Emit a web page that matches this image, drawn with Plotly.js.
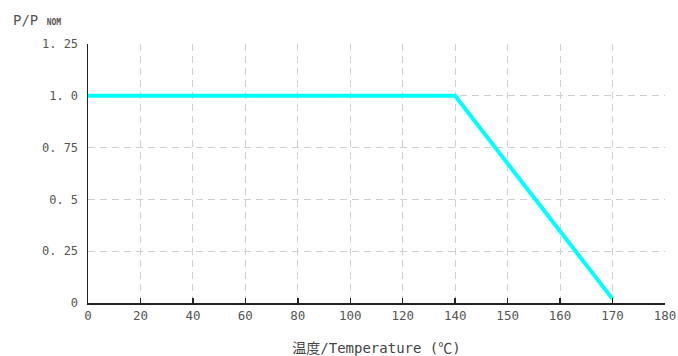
<!DOCTYPE html>
<html>
<head>
<meta charset="utf-8">
<script src="https://cdn.plot.ly/plotly-3.0.1.min.js"></script>
<style>html,body{margin:0;padding:0;background:#fff;}#chart{width:678px;height:356px;}</style>
</head>
<body>
<div id="chart"></div>
<script>
// Tick labels of the (non-uniform) temperature axis, equally spaced in the source chart
const xTickLabels = ['0','20','40','60','80','100','120','140','150','160','170','180'];
// Derating curve
const temperature = ['0','140','170'];
const powerRatio = [1.0, 1.0, 0.02];
// Y ticks
const yTickValues = [0, 0.25, 0.5, 0.75, 1.0, 1.25];
const yTickLabels = ['0', '0. 25', '0. 5', '0. 75', '1. 0', '1. 25'];

const font = "'DejaVu Sans Mono', 'Noto Sans CJK JP', monospace";

const trace = {
  x: temperature,
  y: powerRatio,
  type: 'scatter',
  mode: 'lines',
  line: {color: '#00FFFF', width: 4},
  hoverinfo: 'skip'
};

const layout = {
  width: 678, height: 356,
  margin: {l: 88, r: 13, t: 44, b: 53},
  paper_bgcolor: '#fff', plot_bgcolor: '#fff',
  showlegend: false,
  font: {family: font, size: 12, color: '#444'},
  xaxis: {
    type: 'category',
    categoryorder: 'array',
    categoryarray: xTickLabels,
    range: [0, xTickLabels.length - 1],
    tickvals: xTickLabels,
    ticktext: xTickLabels,
    showgrid: true, gridcolor: '#d0d0d0', griddash: '7px,5px', gridwidth: 1,
    showline: true, linecolor: '#222', linewidth: 1.5,
    ticks: 'inside', ticklen: 5, tickcolor: '#222', tickwidth: 1.5,
    zeroline: false,
    tickfont: {family: font, size: 12.5, color: '#555'},
    title: {text: '温度/Temperature (℃)', font: {family: font, size: 14, color: '#444'}, standoff: 22}
  },
  yaxis: {
    range: [0, 1.25],
    tickvals: yTickValues,
    ticktext: yTickLabels,
    showgrid: true, gridcolor: '#d0d0d0', griddash: '7px,5px', gridwidth: 1,
    showline: true, linecolor: '#222', linewidth: 1.5,
    ticks: '', zeroline: false,
    ticklabelstandoff: 6,
    tickfont: {family: font, size: 12, color: '#555'}
  },
  annotations: [{
    xref: 'paper', yref: 'paper', x: -0.133, y: 1.0, yshift: 24,
    xanchor: 'left', yanchor: 'middle', showarrow: false,
    text: "P/P <b><span style='font-size:8px'>NOM</span></b>",
    font: {family: font, size: 14, color: '#555'}
  }]
};

Plotly.newPlot('chart', [trace], layout, {displayModeBar: false, staticPlot: true});
</script>
</body>
</html>
